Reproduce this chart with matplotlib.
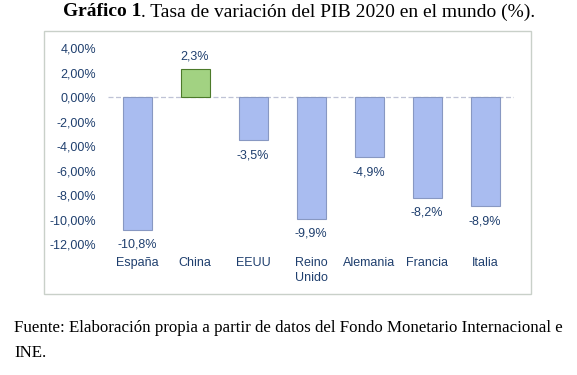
import matplotlib
matplotlib.use("Agg")

import matplotlib.pyplot as plt
from matplotlib.patches import Rectangle

categories = ["España", "China", "EEUU", "Reino\nUnido", "Alemania", "Francia", "Italia"]
values = [-10.8, 2.3, -3.5, -9.9, -4.9, -8.2, -8.9]
yticks = [4, 2, 0, -2, -4, -6, -8, -10, -12]

title_bold = "Gráfico 1"
title_rest = ". Tasa de variación del PIB 2020 en el mundo (%)."
source_lines = [
    "Fuente: Elaboración propia a partir de datos del Fondo Monetario Internacional e",
    "INE.",
]

W, H = 577, 375
text_color = "#1F3F6E"
blue = "#A9BCF0"
blue_edge = "#8898C2"
green = "#A2D282"
green_edge = "#4C7A2A"

fig = plt.figure(figsize=(W / 100, H / 100), dpi=100)
fig.patch.set_facecolor("white")

# chart frame
fig.patches.append(Rectangle((44 / W, 1 - 294 / H), 487 / W, 263 / H,
                             transform=fig.transFigure, fill=False,
                             edgecolor="#C9D0C9", linewidth=1.0))

ax = fig.add_axes([108 / W, 1 - 244.3 / H, 406 / W, 196 / H])
x = list(range(len(categories)))
colors = [green if v > 0 else blue for v in values]
edges = [green_edge if v > 0 else blue_edge for v in values]
ax.bar(x, values, width=0.5, color=colors, edgecolor=edges, linewidth=0.8, zorder=2)

ax.axhline(0, color="#BFC3D6", linestyle=(0, (4, 2)), linewidth=0.9, zorder=1)
ax.set_xlim(-0.5, len(categories) - 0.5)
ax.set_ylim(-12, 4)
ax.set_yticks(yticks)
ax.set_yticklabels([f"{t:.2f}%".replace(".", ",") for t in yticks])
ax.set_xticks(x)
ax.set_xticklabels(categories, va="top", linespacing=1.3)
ax.tick_params(axis="y", length=0, pad=8.6, labelsize=9, labelcolor=text_color)
ax.tick_params(axis="x", length=0, pad=9, labelsize=9, labelcolor=text_color)
for t in ax.get_xticklabels() + ax.get_yticklabels():
    t.set_fontfamily("Liberation Sans")
for s in ax.spines.values():
    s.set_visible(False)

for xi, v in zip(x, values):
    off = 13 if v > 0 else -15
    ax.annotate(f"{v:.1f}%".replace(".", ","), (xi, v), xytext=(0, off),
                textcoords="offset pixels", ha="center", va="center",
                fontsize=9, color=text_color, family="Liberation Sans")

# title: bold part followed by normal part
renderer = fig.canvas.get_renderer()
t1 = fig.text(63 / W, 1 - 12 / H, title_bold, fontsize=14, fontweight="bold",
              family="Liberation Serif", va="center", ha="left")
bb = t1.get_window_extent(renderer)
fig.text(bb.x1 / W, 1 - 12 / H, title_rest, fontsize=14,
         family="Liberation Serif", va="center", ha="left")

for i, line in enumerate(source_lines):
    fig.text(14 / W, 1 - (328 + 25 * i) / H, line, fontsize=12.2,
             family="Liberation Serif", va="center", ha="left")

fig.savefig("out.png", dpi=100)
